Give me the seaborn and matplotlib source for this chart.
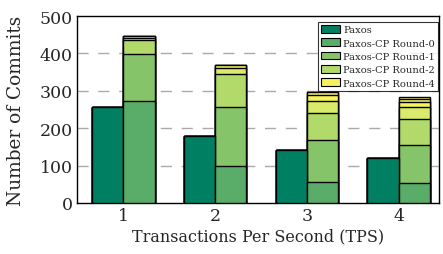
import matplotlib
matplotlib.use("Agg")
import matplotlib.pyplot as plt
from matplotlib.patches import Patch
import seaborn as sns
import pandas as pd
import numpy as np

tps = ["1", "2", "3", "4"]
paxos = [258, 178, 142, 120]
round0 = [273, 98, 55, 53]
round1 = [125, 160, 113, 103]
round2 = [37, 87, 73, 68]
round3 = [7, 17, 33, 32]
round4 = [5, 7, 16, 15]
round5 = [0, 0, 8, 7]
round6 = [0, 0, 0, 6]

rounds = [round0, round1, round2, round3, round4, round5, round6]
round_colors = ["#5aad68", "#86c46a", "#b2da6a", "#d9eb6a", "#f6f25e", "#f4ef6a", "#f2ee70"]
paxos_color = "#007f62"
legend_labels = ["Paxos", "Paxos-CP Round-0", "Paxos-CP Round-1",
                 "Paxos-CP Round-2", "Paxos-CP Round-4"]
legend_colors = [paxos_color, round_colors[0], round_colors[1], round_colors[2], round_colors[4]]

sns.set_style("white")
plt.rcParams["font.family"] = ["DejaVu Serif"]

fig = plt.figure(figsize=(4.43, 2.55), dpi=100)
ax = fig.add_axes([0.174, 0.20, 0.817, 0.733])

cum = np.cumsum(np.array(rounds), axis=0)
for k in range(len(rounds) - 1, -1, -1):
    df = pd.DataFrame({
        "TPS": tps * 2,
        "value": list(paxos) + list(cum[k]),
        "system": ["Paxos"] * 4 + ["Paxos-CP"] * 4,
    })
    sns.barplot(data=df, x="TPS", y="value", hue="system",
                hue_order=["Paxos", "Paxos-CP"],
                palette={"Paxos": paxos_color, "Paxos-CP": round_colors[k]},
                dodge=True, width=0.68, edgecolor="black", linewidth=1.0,
                saturation=1, legend=False, ax=ax, zorder=3)

ax.set_ylim(0, 500)
ax.set_xlim(-0.505, 3.44)
ax.set_yticks([0, 100, 200, 300, 400, 500])
for y in [100, 200, 300, 400]:
    ax.axhline(y, color="#aaaaaa", linestyle=(0, (8, 7)), linewidth=1.0, zorder=1)

for s in ax.spines.values():
    s.set_visible(True)
    s.set_color("black")
    s.set_linewidth(1.0)

ax.tick_params(axis="both", labelsize=12.5, direction="in", length=0, pad=3)
ax.set_xlabel("Transactions Per Second (TPS)", fontsize=11.5, labelpad=2)
ax.set_ylabel("Number of Commits", fontsize=13.3)
ax.yaxis.set_label_coords(-0.143, 0.5)

handles = [Patch(facecolor=c, edgecolor="black", linewidth=0.8) for c in legend_colors]
leg = ax.legend(handles, legend_labels, loc="upper right",
                bbox_to_anchor=(0.997, 0.968), fontsize=7.1,
                frameon=True, fancybox=False, edgecolor="black",
                handlelength=1.85, handleheight=0.8, handletextpad=0.35,
                labelspacing=0.42, borderpad=0.3, borderaxespad=0.0)
leg.get_frame().set_linewidth(0.8)
leg.set_zorder(5)

fig.savefig("out.png", dpi=100)
